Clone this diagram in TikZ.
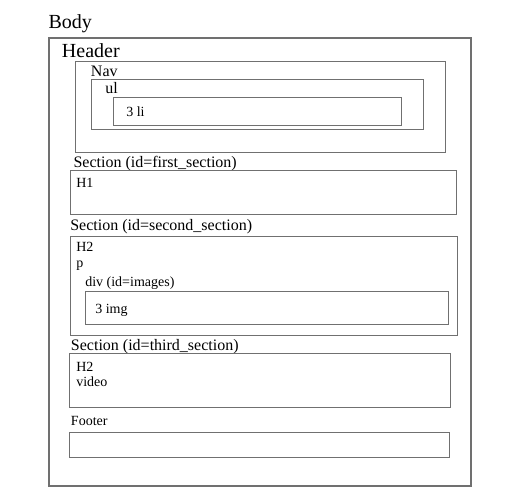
\documentclass[tikz,border=0pt]{standalone}
\usepackage{fontspec}
\setmainfont{Liberation Serif}
\usepackage{xcolor}
\usepackage{tikz}
\definecolor{boxgray}{HTML}{707070}
\tikzset{
    outerbox/.style={draw=boxgray, line width=1.5pt},
    innerbox/.style={draw=boxgray, line width=0.75pt},
    biglabel/.style={anchor=base west, inner sep=0pt, font=\fontsize{15pt}{18pt}\selectfont},
    midlabel/.style={anchor=base west, inner sep=0pt, font=\fontsize{12pt}{14pt}\selectfont},
    smalllabel/.style={anchor=base west, inner sep=0pt, font=\fontsize{10.5pt}{12pt}\selectfont}
}

\begin{document}
\begin{tikzpicture}[x=0.75pt, y=-0.75pt]
            \useasboundingbox (0,0) rectangle (519,493);
            % body and header
            \node (body) [biglabel] at (48.3,28.3) {Body};
            \draw[outerbox] (49,38) rectangle (471,485.5);
            \node (header) [biglabel] at (61.7,57.3) {Header};
            \draw[innerbox] (75,61.5) rectangle (445.5,152.5);
            \node (nav) [midlabel] at (90.7,76) {Nav};
            \draw[innerbox] (91,79.5) rectangle (423.5,129.5);
            \node (ul) [midlabel] at (105,93.3) {ul};
            \draw[innerbox] (113,97.5) rectangle (401.5,125.5);
            \node (li) [smalllabel] at (126,116.7) {3 li};
            % sections
            \node (first) [midlabel] at (73.3,167.3) {Section (id=first\_section)};
            \draw[innerbox] (70.5,170.5) rectangle (456.5,214.5);
            \node (hone) [smalllabel] at (76,187.3) {H1};
            \node (second) [midlabel] at (70,230) {Section (id=second\_section)};
            \draw[innerbox] (70.5,236.5) rectangle (457.5,335.5);
            \node (htwo) [smalllabel] at (76,251.7) {H2};
            \node (para) [smalllabel] at (76,267.5) {p};
            \node (div) [smalllabel] at (85,286.7) {div (id=images)};
            \draw[innerbox] (85.5,291.5) rectangle (448.5,324.5);
            \node (img) [smalllabel] at (95,313.3) {3 img};
            \node (third) [midlabel] at (70.7,350.7) {Section (id=third\_section)};
            \draw[innerbox] (69.5,353.5) rectangle (450.5,407.5);
            \node (hthree) [smalllabel] at (76,371.7) {H2};
            \node (video) [smalllabel] at (76,386.7) {video};
            % footer
            \node (footer) [smalllabel] at (70.7,425) {Footer};
            \draw[innerbox] (69.5,432.5) rectangle (449.5,457.5);
        \end{tikzpicture}
\end{document}
